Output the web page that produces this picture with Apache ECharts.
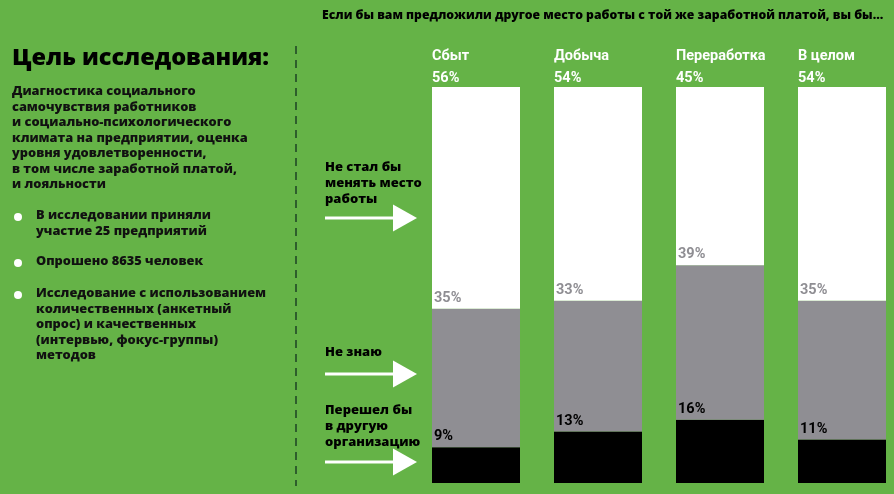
<!DOCTYPE html>
<html><head><meta charset="utf-8">
<style>html,body{margin:0;padding:0;background:#65b347;}#c{width:894px;height:494px;}</style>
<script src="https://cdn.jsdelivr.net/npm/echarts@6/dist/echarts.min.js"></script>
</head><body><div id="c"></div>
<script>
var categories = ['Сбыт', 'Добыча', 'Переработка', 'В целом'];
var stayValues = [56, 54, 45, 54];      // Не стал бы менять место работы
var unsureValues = [35, 33, 39, 35];    // Не знаю
var leaveValues = [9, 13, 16, 11];      // Перешел бы в другую организацию

var FONT = '"Open Sans"';
var chart = echarts.init(document.getElementById('c'));

function txt(x, y, text, size, color, lh, weight) {
  return { type: 'text', left: x, top: y, style: { text: text, font: (weight || 'bold') + ' ' + size + 'px ' + FONT, fill: color, lineHeight: lh || size + 2 } };
}
function arrow(y) {
  return [
    { type: 'line', shape: { x1: 325, y1: y, x2: 396, y2: y }, style: { stroke: '#fff', lineWidth: 3 } },
    { type: 'polygon', shape: { points: [[393, y - 13.5], [417, y], [393, y + 13.5]] }, style: { fill: '#fff' } }
  ];
}
function bullet(y) { return { type: 'circle', shape: { cx: 18, cy: y, r: 4 }, style: { fill: '#fff' } }; }

var graphics = [
  txt(322, 9, 'Если бы вам предложили другое место работы с той же заработной платой, вы бы…', 12.2, '#000', 14, 800),
  txt(12, 43, 'Цель исследования:', 23.5, '#000', 30, 800),
  txt(12, 84, 'Диагностика социального\nсамочувствия работников\nи социально-психологического\nклимата на предприятии, оценка\nуровня удовлетворенности,\nв том числе заработной платой,\nи лояльности', 12.8, '#111', 15.5, 800),
  bullet(217), txt(36, 208, 'В исследовании приняли\nучастие 25 предприятий', 12.8, '#111', 15.5, 800),
  bullet(263), txt(36, 254, 'Опрошено 8635 человек', 12.8, '#111', 15.5, 800),
  bullet(295), txt(36, 286, 'Исследование с использованием\nколичественных (анкетный\nопрос) и качественных\n(интервью, фокус-группы)\nметодов', 12.8, '#111', 15.5, 800),
  { type: 'line', shape: { x1: 296, y1: 46, x2: 296, y2: 486 }, style: { stroke: '#2e5e2c', lineWidth: 2, lineDash: [8, 6] } },
  txt(325, 159, 'Не стал бы\nменять место\nработы', 13, '#000', 16, 800),
  txt(325, 344, 'Не знаю', 13, '#000', 16, 800),
  txt(325, 402, 'Перешел бы\nв другую\nорганизацию', 13, '#000', 16, 800)
].concat(arrow(218), arrow(374), arrow(462));

var labelBase = { show: true, fontFamily: 'Roboto', fontWeight: 'bold', fontSize: 14.5 };

chart.setOption({
  backgroundColor: '#65b347',
  animation: false,
  grid: { left: 415, width: 488, top: 87, bottom: 11, outerBoundsMode: 'none', containLabel: false },
  xAxis: { type: 'category', data: categories, show: false, boundaryGap: true },
  yAxis: { type: 'value', min: 0, max: 100, show: false },
  graphic: graphics,
  series: [
    { name: 'Перешел бы в другую организацию', type: 'bar', stack: 's', data: leaveValues, barWidth: 88,
      itemStyle: { color: '#000' },
      label: Object.assign({}, labelBase, { position: [2, -18], color: '#000', formatter: '{c}%' }) },
    { name: 'Не знаю', type: 'bar', stack: 's', data: unsureValues, barWidth: 88,
      itemStyle: { color: '#8f8e93' },
      label: Object.assign({}, labelBase, { position: [2, -18], color: '#8f8e93', formatter: '{c}%' }) },
    { name: 'Не стал бы менять место работы', type: 'bar', stack: 's', data: stayValues, barWidth: 88,
      itemStyle: { color: '#fff' },
      label: Object.assign({}, labelBase, { position: [0, -42], color: '#fff', lineHeight: 22, formatter: '{b}\n{c}%' }) }
  ]
});
</script></body></html>
